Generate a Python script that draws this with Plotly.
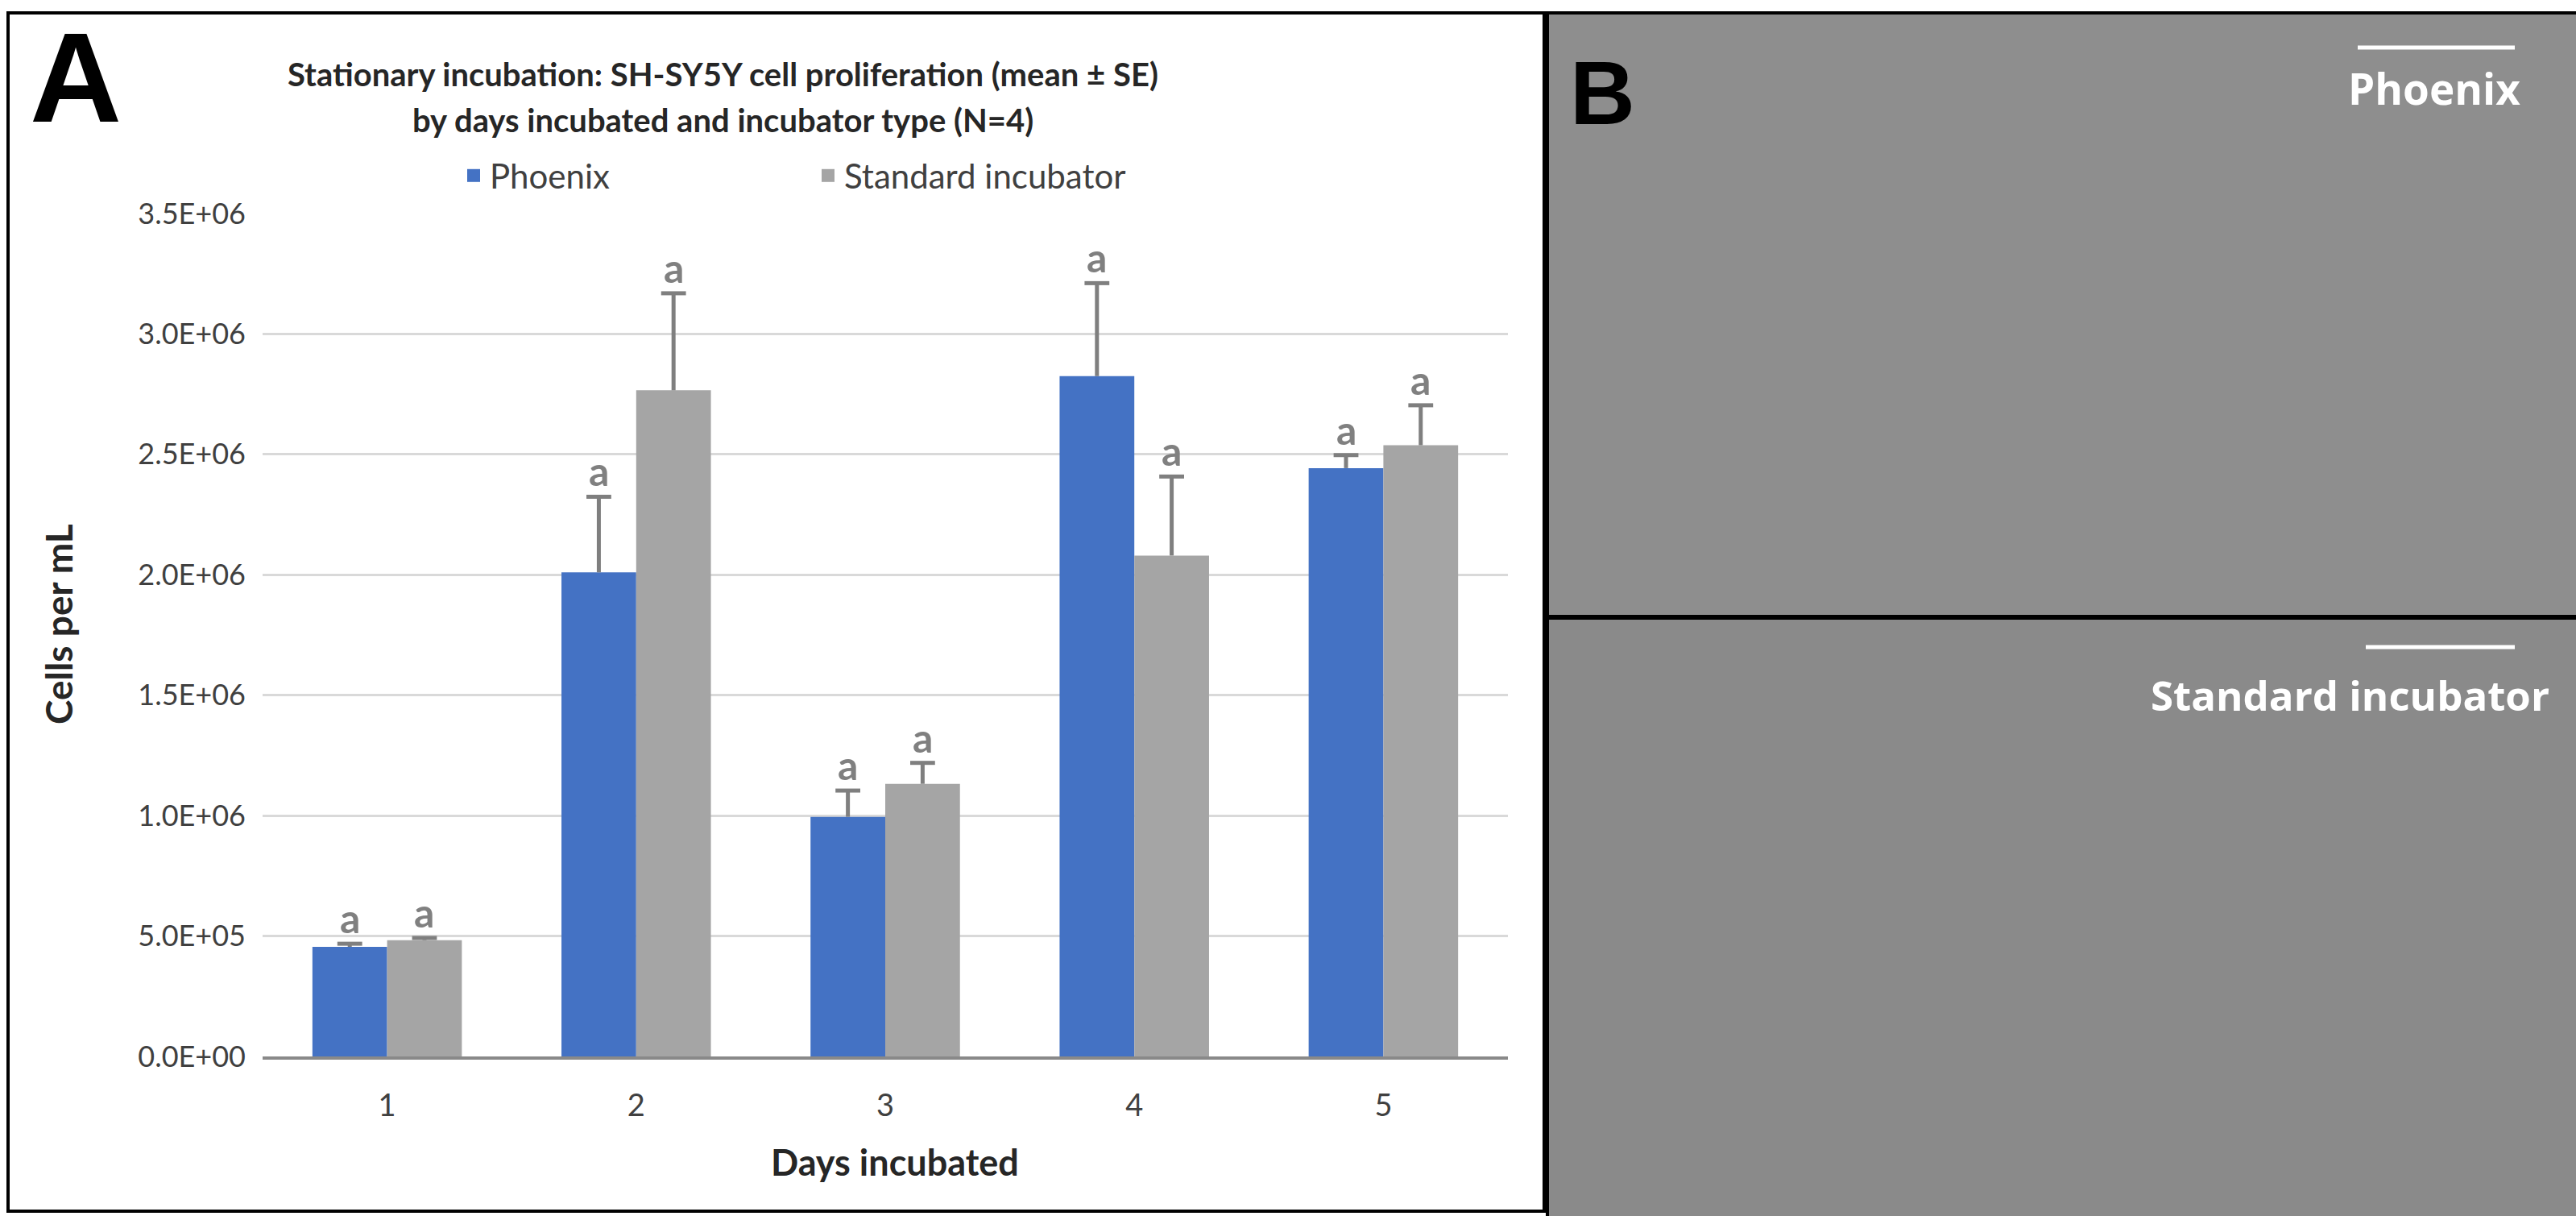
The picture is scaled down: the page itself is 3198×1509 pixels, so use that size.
import plotly.graph_objects as go

# ---------------- data ----------------
days = [1, 2, 3, 4, 5]
phoenix = [455000, 2010000, 995000, 2825000, 2443000]
phoenix_se = [13000, 314000, 109000, 386000, 54000]
standard = [483000, 2766000, 1132000, 2080000, 2538000]
standard_se = [9000, 403000, 87000, 328000, 166000]
letters_phoenix = ["a", "a", "a", "a", "a"]
letters_standard = ["a", "a", "a", "a", "a"]
y_tickvals = [0, 500000, 1000000, 1500000, 2000000, 2500000, 3000000, 3500000]
y_ticktext = ["0.0E+00", "5.0E+05", "1.0E+06", "1.5E+06", "2.0E+06", "2.5E+06", "3.0E+06", "3.5E+06"]
series_names = ["Phoenix", "Standard incubator"]

# ---------------- layout geometry (pixels) ----------------
FW, FH = 3198, 1509
L, R, T, B = 326, 1872, 265, 1311
PW, PH = R - L, B - T


def px(x):
    return (x - L) / PW


def py(y):
    return (B - y) / PH


BLUE = "#4472C4"
GREY = "#A5A5A5"
ERR = "#7F7F7F"
FONT = "Lato, Carlito, sans-serif"
BAR_W = 0.3
series = [
    (series_names[0], phoenix, phoenix_se, letters_phoenix, BLUE, -BAR_W),
    (series_names[1], standard, standard_se, letters_standard, GREY, 0.0),
]

fig = go.Figure()
annotations = []
for name, vals, ses, letters, color, off in series:
    centers = [d + off + BAR_W / 2 for d in days]
    tops = [v + s for v, s in zip(vals, ses)]
    fig.add_trace(go.Bar(
        x=days, y=vals, name=name, marker_color=color, marker_line_width=0,
        width=BAR_W, offset=off, showlegend=False,
        error_y=dict(type="data", array=ses, arrayminus=[0] * len(days),
                     symmetric=False, color=ERR, thickness=5, width=0),
    ))
    # error-bar caps (plus direction only)
    fig.add_trace(go.Scatter(
        x=centers, y=tops, mode="markers", showlegend=False, hoverinfo="skip",
        marker=dict(symbol="line-ew", size=22, color=ERR, line=dict(color=ERR, width=5)),
    ))
    for c, t, lt in zip(centers, tops, letters):
        annotations.append(dict(x=c, y=t, text=lt, showarrow=False,
                                yanchor="bottom", yshift=0,
                                font=dict(family=FONT, size=50, color="#808080", weight="bold")))

# legend entries with larger square swatches
for name, _, _, _, color, _ in series:
    fig.add_trace(go.Scatter(
        x=[None], y=[None], mode="markers", name=name,
        marker=dict(symbol="square", size=19, color=color),
    ))

paper = dict(xref="paper", yref="paper", showarrow=False)
annotations += [
    dict(x=px(897), y=py(92), text="Stationary incubation: SH-SY5Y cell proliferation (mean ± SE)",
         xanchor="center", yanchor="middle",
         font=dict(family=FONT, size=40, color="#262626", weight="bold"), **paper),
    dict(x=px(897), y=py(149), text="by days incubated and incubator type (N=4)",
         xanchor="center", yanchor="middle",
         font=dict(family=FONT, size=40, color="#262626", weight="bold"), **paper),
    dict(x=px(94), y=py(96), text="A", xanchor="center", yanchor="middle",
         font=dict(family="Liberation Sans, Arial, sans-serif", size=158, color="black", weight="bold"), **paper),
    dict(x=px(72), y=py(775), text="Cells per mL", textangle=-90, xanchor="center", yanchor="middle",
         font=dict(family=FONT, size=46, color="#262626", weight="bold"), **paper),
    dict(x=px(1111), y=py(1442), text="Days incubated", xanchor="center", yanchor="middle",
         font=dict(family=FONT, size=45, color="#262626", weight="bold"), **paper),
    dict(x=px(1990), y=py(116), text="B", xanchor="center", yanchor="middle",
         font=dict(family="Liberation Sans, Arial, sans-serif", size=112, color="black", weight="bold"), **paper),
    dict(x=px(3022), y=py(110), text="Phoenix", xanchor="center", yanchor="middle",
         font=dict(family="Open Sans, sans-serif", size=53, color="white", weight="bold"), **paper),
    dict(x=px(2917), y=py(862), text="Standard incubator", xanchor="center", yanchor="middle",
         font=dict(family="Open Sans, sans-serif", size=51, color="white", weight="bold"), **paper),
]

shapes = [
    # panel A frame
    dict(type="rect", xref="paper", yref="paper", x0=px(10), x1=px(1917), y0=py(1503), y1=py(16),
         line=dict(color="black", width=4), fillcolor="rgba(0,0,0,0)", layer="above"),
    # panel B micrographs (placeholders)
    dict(type="rect", xref="paper", yref="paper", x0=px(1921), x1=px(3200), y0=py(765), y1=py(16),
         line=dict(color="black", width=4), fillcolor="#8E8E8E", layer="below"),
    dict(type="rect", xref="paper", yref="paper", x0=px(1921), x1=px(3200), y0=py(1511), y1=py(767),
         line=dict(color="black", width=4), fillcolor="#8A8A8A", layer="below"),
    # scale bars
    dict(type="line", xref="paper", yref="paper", x0=px(2927), x1=px(3122), y0=py(59), y1=py(59),
         line=dict(color="white", width=5)),
    dict(type="line", xref="paper", yref="paper", x0=px(2937), x1=px(3122), y0=py(803), y1=py(803),
         line=dict(color="white", width=5)),
]

fig.update_layout(
    width=FW, height=FH,
    margin=dict(l=L, r=FW - R, t=T, b=FH - B, pad=0),
    paper_bgcolor="white", plot_bgcolor="white",
    barmode="overlay",
    showlegend=True,
    legend=dict(orientation="h", x=px(568), y=py(218), xanchor="left", yanchor="middle",
                entrywidth=395, entrywidthmode="pixels", traceorder="normal",
                itemsizing="trace",
                font=dict(family=FONT, size=42, color="#404040"), bgcolor="rgba(0,0,0,0)"),
    xaxis=dict(range=[0.5, 5.5], tickvals=days, ticktext=[str(d) for d in days],
               showgrid=False, showline=True, linecolor="#898989", linewidth=4,
               ticks="", ticklabelstandoff=24, zeroline=False,
               tickfont=dict(family=FONT, size=38, color="#404040")),
    yaxis=dict(range=[0, 3500000], tickvals=y_tickvals, ticktext=y_ticktext,
               showgrid=True, gridcolor="#D9D9D9", gridwidth=3, zeroline=False,
               showline=False, ticks="", ticklabelstandoff=20,
               tickfont=dict(family=FONT, size=36, color="#404040")),
    annotations=annotations,
    shapes=shapes,
)

fig.write_html("out.html", config={"displayModeBar": False},
               post_script="document.body.style.margin='0';")
